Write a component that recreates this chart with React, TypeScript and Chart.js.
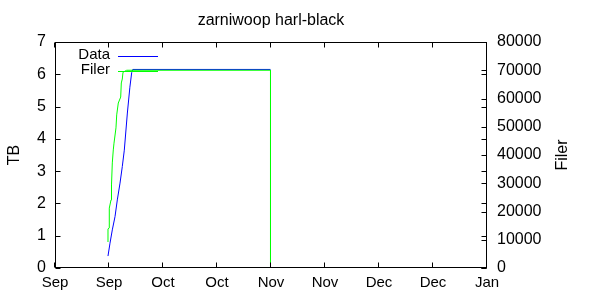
import React, { useEffect, useRef } from "react";
import { Chart, registerables } from "chart.js";

Chart.register(...registerables);

const chartTitle = "zarniwoop harl-black";
const leftAxisTitle = "TB";
const rightAxisTitle = "Filer";
const seriesNames = ["Data", "Filer"];

// x axis: days since the first tick
const xTickDays = [0, 15, 30, 45, 60, 75, 90, 105, 120];
const xTickLabels = ["Sep", "Sep", "Oct", "Oct", "Nov", "Nov", "Dec", "Dec", "Jan"];
const leftTicks = [0, 1, 2, 3, 4, 5, 6, 7];
const rightTicks = [0, 10000, 20000, 30000, 40000, 50000, 60000, 70000, 80000];

// Data (TB, left axis)
const dataDays = [14.72, 15.28, 15.92, 16.67, 17.31, 18.06, 18.69, 19.25, 20.1, 20.8, 21.3, 21.6, 59.86];
const dataTB = [0.37, 0.77, 1.18, 1.59, 2.11, 2.63, 3.14, 3.65, 4.8, 5.6, 6.05, 6.15, 6.15];

// Filer (count, right axis)
const filerDays = [14.72, 14.72, 15.0, 15.08, 15.56, 15.56, 15.83, 15.92, 16.19, 16.39, 16.94, 17.14, 17.58, 18.25, 18.42, 18.69, 18.89, 19.92, 59.86, 59.86];
const filerCounts = [9200, 13800, 14200, 21200, 24100, 28300, 29400, 37200, 41800, 44200, 49600, 54200, 58400, 60500, 65500, 66900, 69300, 70000, 70000, 0];

const FONT = "'Liberation Sans', Arial, Helvetica, sans-serif";

export default function App() {
  const ref = useRef<HTMLCanvasElement | null>(null);

  useEffect(() => {
    if (!ref.current) return;
    const tickLen = 5;

    const overlay = {
      id: "gnuplotOverlay",
      afterDraw(chart: any) {
        const { ctx, chartArea: a, scales } = chart;
        const L = Math.round(a.left) + 0.5;
        const R = Math.round(a.right) - 0.5;
        const T = Math.round(a.top) + 0.5;
        const B = Math.round(a.bottom) - 0.5;
        ctx.save();
        ctx.strokeStyle = "#000";
        ctx.lineWidth = 1;
        ctx.strokeRect(L, T, R - L, B - T);
        ctx.beginPath();
        for (const d of xTickDays) {
          const px = Math.floor(scales.x.getPixelForValue(d)) - 0.5;
          ctx.moveTo(px, B);
          ctx.lineTo(px, B - tickLen);
          ctx.moveTo(px, T);
          ctx.lineTo(px, T + tickLen);
        }
        for (const v of leftTicks) {
          const py = Math.round(scales.y.getPixelForValue(v)) + 0.5;
          ctx.moveTo(L, py);
          ctx.lineTo(L + tickLen, py);
          ctx.moveTo(R, py);
          ctx.lineTo(R - tickLen, py);
        }
        for (const v of rightTicks) {
          const py = Math.round(scales.y2.getPixelForValue(v)) + 0.5;
          ctx.moveTo(R, py);
          ctx.lineTo(R - tickLen, py);
        }
        ctx.stroke();

        // title
        ctx.fillStyle = "#000";
        ctx.font = `16px ${FONT}`;
        ctx.textAlign = "center";
        ctx.textBaseline = "middle";
        ctx.fillText(chartTitle, (a.left + a.right) / 2, 21);

        // axis titles
        ctx.font = `16px ${FONT}`;
        ctx.save();
        ctx.translate(15, 155);
        ctx.rotate(-Math.PI / 2);
        ctx.fillText(leftAxisTitle, 0, 0);
        ctx.restore();
        ctx.save();
        ctx.translate(563, 155);
        ctx.rotate(-Math.PI / 2);
        ctx.fillText(rightAxisTitle, 0, 0);
        ctx.restore();

        // legend
        ctx.font = `15px ${FONT}`;
        const colors = ["#0000ff", "#00ff00"];
        const rows = [56, 71];
        ctx.textAlign = "right";
        for (let i = 0; i < seriesNames.length; i++) {
          ctx.fillStyle = "#000";
          ctx.fillText(seriesNames[i], 110, rows[i] - 1);
          ctx.strokeStyle = colors[i];
          ctx.beginPath();
          ctx.moveTo(118, rows[i] + 0.5);
          ctx.lineTo(158, rows[i] + 0.5);
          ctx.stroke();
        }
        ctx.restore();
      },
    };

    const chart = new Chart(ref.current, {
      type: "line",
      data: {
        datasets: [
          {
            label: seriesNames[0],
            data: dataDays.map((d, i) => ({ x: d, y: dataTB[i] })),
            borderColor: "#0000ff",
            borderWidth: 1,
            pointRadius: 0,
            tension: 0,
            fill: false,
            yAxisID: "y",
            order: 2,
          },
          {
            label: seriesNames[1],
            data: filerDays.map((d, i) => ({ x: d, y: filerCounts[i] })),
            borderColor: "#00ff00",
            borderWidth: 1,
            pointRadius: 0,
            tension: 0,
            fill: false,
            yAxisID: "y2",
            order: 1,
          },
        ],
      },
      options: {
        responsive: false,
        animation: false,
        layout: { padding: { top: 42, left: 0, right: 0, bottom: 0 } },
        plugins: {
          legend: { display: false },
          title: { display: false },
          tooltip: { enabled: false },
        },
        scales: {
          x: {
            type: "linear",
            min: 0,
            max: 120,
            grid: { display: false, drawTicks: false },
            border: { display: false },
            afterBuildTicks: (s: any) => {
              s.ticks = xTickDays.map((v) => ({ value: v }));
            },
            afterFit: (s: any) => {
              s.height = 32;
            },
            ticks: {
              autoSkip: false,
              maxRotation: 0,
              padding: 6,
              color: "#000",
              font: { family: FONT, size: 15 },
              callback: (_v: any, i: number) => xTickLabels[i],
            },
          },
          y: {
            type: "linear",
            position: "left",
            min: 0,
            max: 7,
            grid: { display: false, drawTicks: false },
            border: { display: false },
            afterBuildTicks: (s: any) => {
              s.ticks = leftTicks.map((v) => ({ value: v }));
            },
            afterFit: (s: any) => {
              s.width = 55;
            },
            ticks: {
              padding: 9,
              color: "#000",
              font: { family: FONT, size: 16 },
            },
          },
          y2: {
            type: "linear",
            position: "right",
            min: 0,
            max: 80000,
            grid: { display: false, drawTicks: false },
            border: { display: false },
            afterBuildTicks: (s: any) => {
              s.ticks = rightTicks.map((v) => ({ value: v }));
            },
            afterFit: (s: any) => {
              s.width = 113;
            },
            ticks: {
              padding: 10,
              color: "#000",
              font: { family: FONT, size: 16 },
              callback: (v: any) => String(v),
            },
          },
        },
      },
      plugins: [overlay],
    });
    return () => chart.destroy();
  }, []);

  return (
    <div style={{ position: "absolute", left: 0, top: 0, width: 600, height: 300, background: "#fff" }}>
      <canvas ref={ref} width={600} height={300} style={{ display: "block" }} />
    </div>
  );
}
